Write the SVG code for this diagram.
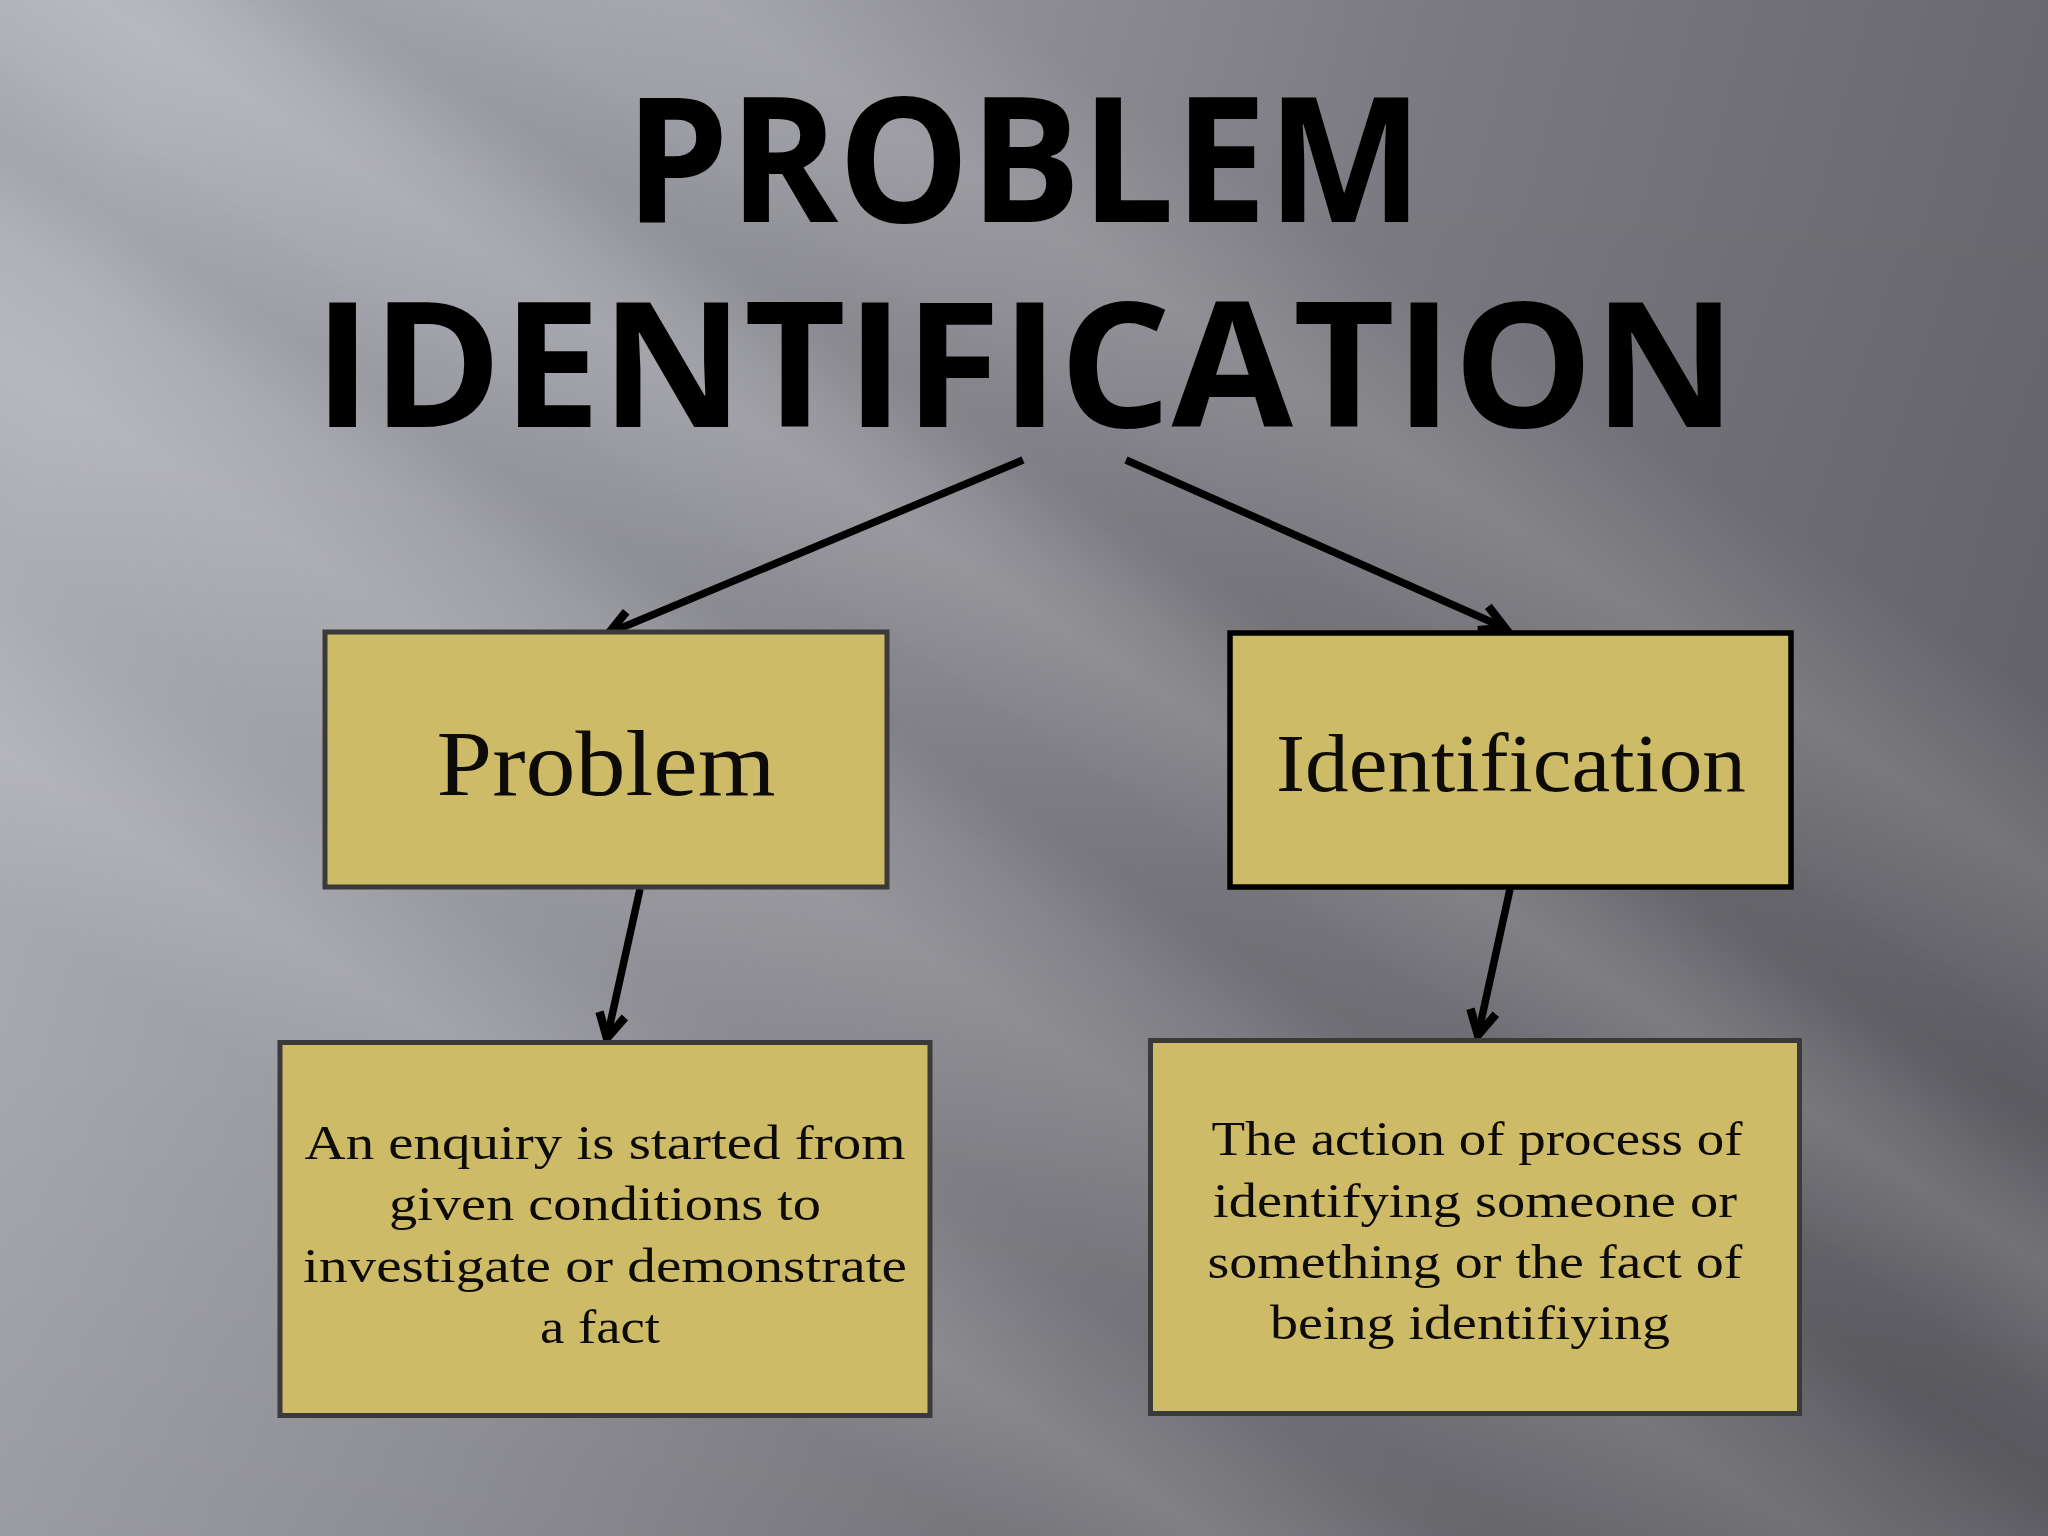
<svg xmlns="http://www.w3.org/2000/svg" width="2048" height="1536" viewBox="0 0 2048 1536">
  <defs>
    <linearGradient id="bg" x1="0" y1="0.4" x2="1" y2="0.6">
      <stop offset="0" stop-color="#aeafb6"/>
      <stop offset="0.3" stop-color="#97989e"/>
      <stop offset="0.6" stop-color="#7a7a80"/>
      <stop offset="1" stop-color="#626268"/>
    </linearGradient>
    <linearGradient id="shade" x1="0" y1="0" x2="0" y2="1">
      <stop offset="0" stop-color="#000" stop-opacity="0"/>
      <stop offset="0.7" stop-color="#000" stop-opacity="0.02"/>
      <stop offset="1" stop-color="#000" stop-opacity="0.06"/>
    </linearGradient>
    <linearGradient id="streak" x1="0" y1="0" x2="0" y2="1">
      <stop offset="0" stop-color="#fff" stop-opacity="0"/>
      <stop offset="0.5" stop-color="#fff" stop-opacity="0.12"/>
      <stop offset="1" stop-color="#fff" stop-opacity="0"/>
    </linearGradient>
    <linearGradient id="dstreak" x1="0" y1="0" x2="0" y2="1">
      <stop offset="0" stop-color="#000" stop-opacity="0"/>
      <stop offset="0.5" stop-color="#000" stop-opacity="0.05"/>
      <stop offset="1" stop-color="#000" stop-opacity="0"/>
    </linearGradient>
    <marker id="arrow" markerUnits="userSpaceOnUse" markerWidth="60" markerHeight="60" viewBox="-40 -30 60 60" refX="0" refY="0" orient="auto">
      <path d="M -24 -13 L 0 0 L -24 13" fill="none" stroke="#000" stroke-width="8.5" stroke-linejoin="miter" stroke-miterlimit="10"/>
    </marker>
    <style>
      .title { font-family: "Open Sans", "DejaVu Sans", sans-serif; font-weight: 700; font-size: 174px; fill: #000; text-anchor: middle; }
      .box { fill: #cebb67; stroke: #3a3a3a; stroke-width: 5; }
      .boxb { fill: #cebb67; stroke: #000; stroke-width: 5.5; }
      .head { font-family: "Liberation Serif", "Times New Roman", serif; fill: #0d0b08; text-anchor: middle; }
      .body { font-family: "Liberation Serif", "Times New Roman", serif; font-size: 49px; fill: #0d0b08; text-anchor: middle; }
      .conn { stroke: #000; stroke-width: 7.5; fill: none; marker-end: url(#arrow); }
    </style>
  </defs>

  <g id="background">
    <rect x="0" y="0" width="2048" height="1536" fill="url(#bg)"/>
    <rect x="0" y="0" width="2048" height="1536" fill="url(#shade)"/>
    <g transform="rotate(33 1024 768)">
      <rect x="-800" y="150" width="3600" height="300" fill="url(#streak)"/>
      <rect x="-800" y="520" width="3600" height="220" fill="url(#streak)"/>
      <rect x="-800" y="820" width="3600" height="320" fill="url(#streak)"/>
      <rect x="-800" y="1180" width="3600" height="260" fill="url(#streak)"/>
      <rect x="-800" y="420" width="3600" height="160" fill="url(#dstreak)"/>
      <rect x="-800" y="720" width="3600" height="160" fill="url(#dstreak)"/>
    </g>
  </g>

  <g id="title">
    <text class="title"><tspan x="1024" y="222" textLength="798" lengthAdjust="spacingAndGlyphs">PROBLEM</tspan><tspan x="1025" y="427" textLength="1423" lengthAdjust="spacingAndGlyphs">IDENTIFICATION</tspan></text>
  </g>

  <g id="connectors">
    <line class="conn" x1="1023" y1="460" x2="609" y2="633"/>
    <line class="conn" x1="1126" y1="460" x2="1505" y2="628"/>
    <line class="conn" x1="640" y1="889" x2="607" y2="1038"/>
    <line class="conn" x1="1510" y1="889" x2="1478" y2="1035"/>
  </g>

  <g id="node-problem">
    <rect class="box" x="325" y="632" width="562" height="255"/>
    <text class="head" x="606" y="795" font-size="94" textLength="339" lengthAdjust="spacingAndGlyphs">Problem</text>
  </g>

  <g id="node-identification">
    <rect class="boxb" x="1230" y="633" width="561" height="254"/>
    <text class="head" x="1511" y="791" font-size="83" textLength="470" lengthAdjust="spacingAndGlyphs">Identification</text>
  </g>

  <g id="node-problem-def">
    <rect class="box" x="280" y="1042.5" width="650" height="373"/>
    <text class="body" x="605" y="1159" textLength="601" lengthAdjust="spacingAndGlyphs">An enquiry is started from</text>
    <text class="body" x="605" y="1220" textLength="432" lengthAdjust="spacingAndGlyphs">given conditions to</text>
    <text class="body" x="605" y="1282" textLength="604" lengthAdjust="spacingAndGlyphs">investigate or demonstrate</text>
    <text class="body" x="600" y="1343" textLength="120" lengthAdjust="spacingAndGlyphs">a fact</text>
  </g>

  <g id="node-identification-def">
    <rect class="box" x="1150.5" y="1040.5" width="649" height="373"/>
    <text class="body" x="1477" y="1155" textLength="531" lengthAdjust="spacingAndGlyphs">The action of process of</text>
    <text class="body" x="1475" y="1217" textLength="524" lengthAdjust="spacingAndGlyphs">identifying someone or</text>
    <text class="body" x="1475" y="1278" textLength="535" lengthAdjust="spacingAndGlyphs">something or the fact of</text>
    <text class="body" x="1470" y="1339" textLength="400" lengthAdjust="spacingAndGlyphs">being identifiying</text>
  </g>
</svg>
